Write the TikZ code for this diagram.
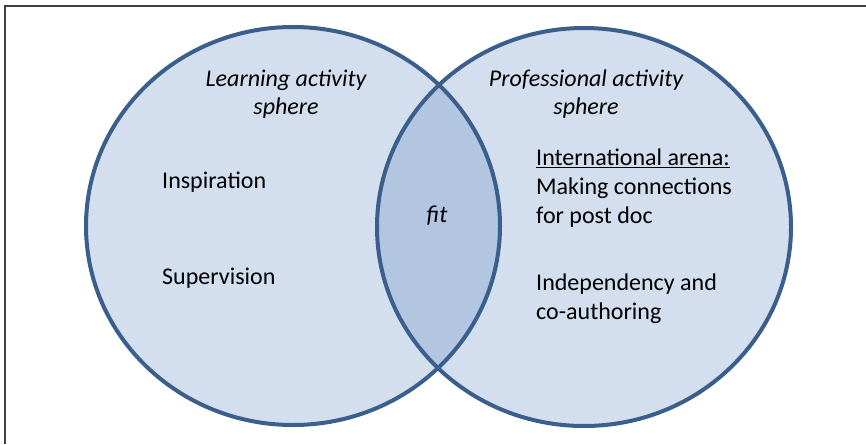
\documentclass[tikz,border=0pt]{standalone}
\usepackage{fontspec}
\setmainfont{Carlito}
\usetikzlibrary{positioning}
\definecolor{spherefill}{HTML}{D3DFEE}
\definecolor{fitfill}{HTML}{B3C6E1}
\definecolor{sphereline}{HTML}{3B5F8C}
\definecolor{framegray}{HTML}{404040}

\begin{document}
\begin{tikzpicture}[x=1pt,y=-1pt,
  sphere/.style={x radius=207pt, y radius=199pt},
  title/.style={font=\fontsize{24}{28}\selectfont\itshape, align=center, inner sep=0pt},
  item/.style={font=\fontsize{24}{29}\selectfont, align=left, inner sep=0pt, anchor=west}]

\useasboundingbox (0,0) rectangle (866,444);

%Frame
\draw[framegray, line width=1.5pt] (5,444) -- (5,6) -- (866,6);

%Spheres
\coordinate (learn) at (293,226);
\coordinate (prof)  at (584,227);
\fill[spherefill] (learn) ellipse [sphere];
\fill[spherefill] (prof) ellipse [sphere];
\begin{scope}
  \clip (learn) ellipse [sphere];
  \fill[fitfill] (prof) ellipse [sphere];
\end{scope}
\draw[sphereline, line width=4pt] (learn) ellipse [sphere];
\draw[sphereline, line width=4pt] (prof) ellipse [sphere];

%Labels
\node[title] (learnT) at (286,94) {Learning activity\\sphere};
\node[title] (profT)  at (586,94) {Professional activity\\sphere};
\node[title] (fit)    at (437,216) {f{}it};

\node[item] (insp) at (162,182) {Inspiration};
\node[item] (sup)  [below=96pt of insp.west, anchor=west] {Supervision};

\node[item] (arena) at (536,188) {\underline{International arena:}\\Making connections\\for post doc};
\node[item] (indep) [below=108pt of arena.west, anchor=west, yshift=-3pt] {Independency and\\co-authoring};

\end{tikzpicture}
\end{document}
